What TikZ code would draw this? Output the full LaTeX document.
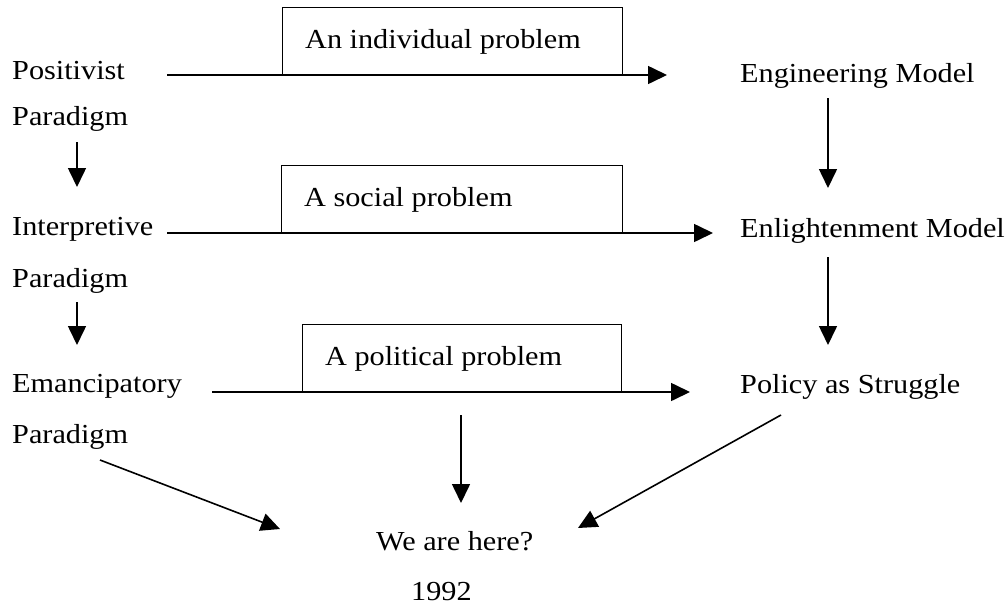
\documentclass[tikz,border=0pt]{standalone}
\usepackage{fontspec}
\setmainfont{Liberation Serif}[FakeStretch=1.1]
\usetikzlibrary{arrows.meta}
\begin{document}
\begin{tikzpicture}[x=1pt,y=-1pt,
  lbl/.style={anchor=base west, inner sep=0pt, font=\fontsize{27.5}{33}\selectfont},
  probbox/.style={draw, line width=1.4pt, anchor=north west, minimum height=68pt},
  conn/.style={line width=1.6pt, -{Triangle[length=19pt,width=18pt]}}]
\fill[white] (0,0) rectangle (1008,605);
\useasboundingbox (0,0) rectangle (1008,605);

% problem boxes
\node[probbox, minimum width=340pt] (b1) at (282,7) {};
\node[probbox, minimum width=341pt] (b2) at (281,165) {};
\node[probbox, minimum width=319pt] (b3) at (302,324) {};
\node[lbl] (t1) at (305,48) {An individual problem};
\node[lbl] (t2) at (304,206) {A social problem};
\node[lbl] (t3) at (325,365) {A political problem};

% left column
\node[lbl] (pos) at (12,79) {Positivist};
\node[lbl] (par1) at (12,125) {Paradigm};
\node[lbl] (int) at (12,235) {Interpretive};
\node[lbl] (par2) at (12,287) {Paradigm};
\node[lbl] (ema) at (12,392) {Emancipatory};
\node[lbl] (par3) at (12,443) {Paradigm};

% right column
\node[lbl] (eng) at (740,82) {Engineering Model};
\node[lbl] (enl) at (740,237) {Enlightenment Model};
\node[lbl] (pol) at (740,393) {Policy as Struggle};

% bottom
\node[lbl] (here) at (376,550) {We are here?};
\node[lbl] (yr) at (411,600) {1992};

% connector end points
\coordinate (h1s) at (167,75);  \coordinate (h1e) at (667,75);
\coordinate (h2s) at (167,233); \coordinate (h2e) at (713,233);
\coordinate (h3s) at (212,392); \coordinate (h3e) at (690,392);
\coordinate (l1s) at (77,142);  \coordinate (l1e) at (77,187);
\coordinate (l2s) at (77,302);  \coordinate (l2e) at (77,345);
\coordinate (r1s) at (828,98);  \coordinate (r1e) at (828,188);
\coordinate (r2s) at (828,257); \coordinate (r2e) at (828,345);
\coordinate (ms) at (461,415);  \coordinate (me) at (461,503);
\coordinate (dls) at (100,460); \coordinate (dle) at (280,529);
\coordinate (drs) at (781,415); \coordinate (dre) at (578,528);

\draw[conn] (h1s) -- (h1e);
\draw[conn] (h2s) -- (h2e);
\draw[conn] (h3s) -- (h3e);
\draw[conn] (l1s) -- (l1e);
\draw[conn] (l2s) -- (l2e);
\draw[conn] (r1s) -- (r1e);
\draw[conn] (r2s) -- (r2e);
\draw[conn] (ms) -- (me);
\draw[conn] (dls) -- (dle);
\draw[conn] (drs) -- (dre);
\end{tikzpicture}
\end{document}
